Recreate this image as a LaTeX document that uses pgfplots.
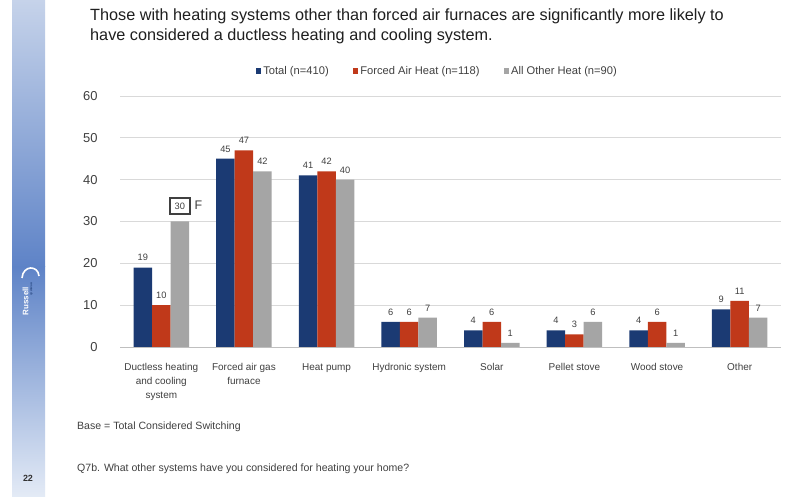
\documentclass[border=0pt]{standalone}
\usepackage{fontspec}
\setmainfont{Liberation Sans}
\usepackage{pgfplots}
\pgfplotsset{compat=1.18}

\definecolor{navy}{HTML}{1B3A73}
\definecolor{rust}{HTML}{C0391A}
\definecolor{silver}{HTML}{A5A5A5}
\definecolor{gridgray}{HTML}{D9D9D9}
\definecolor{axisgray}{HTML}{BFBFBF}
\definecolor{txt}{HTML}{404040}
\definecolor{stripA}{HTML}{C6D3EA}
\definecolor{stripB}{HTML}{5E83C7}
\definecolor{stripC}{HTML}{E4EBF6}

\pgfplotsset{
  sqleg/.style={legend image code/.code={\fill[##1] (0bp,-2.8bp) rectangle (5.6bp,2.8bp);}},
}

\setlength{\fboxrule}{1.6bp}
\setlength{\fboxsep}{4bp}

\begin{document}
\begin{tikzpicture}[x=1bp,y=1bp]
% page
\fill[white] (0,0) rectangle (785,497);
% side strip
\shade[top color=stripA, bottom color=stripB] (12,230) rectangle (45,497);
\shade[top color=stripB, bottom color=stripC] (12,0) rectangle (45,230);
% logo
\draw[white, line width=1.6bp] (22,219) .. controls (23,232) and (38,232) .. (39,221);
\node[rotate=90, white, font=\fontsize{8}{8}\selectfont\bfseries, inner sep=0] at (25.5,196) {Russell};
\node[rotate=-90, navy, font=\fontsize{3.5}{3.5}\selectfont, inner sep=0] at (31.5,208) {research};
\node[font=\fontsize{9}{9}\selectfont\bfseries, text=black!80, inner sep=0] at (28,19) {22};

% title
\node[anchor=base west, inner sep=0, font=\fontsize{16.3}{18}\selectfont, text=black!88]
  at (90bp,476bp) {Those with heating systems other than  forced air furnaces are significantly more likely to};
\node[anchor=base west, inner sep=0, font=\fontsize{16.3}{18}\selectfont, text=black!88]
  at (90bp,456.5bp) {have considered a ductless heating and cooling system.};

\begin{axis}[
  at={(120bp,150bp)}, anchor=south west,
  scale only axis, width=661bp, height=251bp,
  ybar=0pt, bar width=18.5bp,
  xmin=-0.5, xmax=7.5, ymin=0, ymax=60,
  axis lines*=left,
  y axis line style={draw=none},
  x axis line style={draw=axisgray, line width=0.9bp},
  ytick={0,10,...,60},
  ymajorgrids, grid style={draw=gridgray, line width=0.9bp},
  major y tick style={draw=none},
  xtick={0,...,7},
  xticklabels={{Ductless heating\\and cooling\\system},{Forced air gas\\furnace},Heat pump,Hydronic system,Solar,Pellet stove,Wood stove,Other},
  major x tick style={draw=none},
  extra x ticks={-0.5,0.5,...,7.5},
  extra x tick labels={},
  extra x tick style={grid=none, tick align=outside, major tick length=5bp,
    major tick style={draw=axisgray, line width=0.9bp}},
  xticklabel style={align=center, font=\fontsize{10}{14}\selectfont, text=txt, anchor=north, yshift=-9bp},
  yticklabel style={font=\fontsize{13}{13}\selectfont, text=txt, xshift=-19bp},
  /pgf/number format/assume math mode=true,
  nodes near coords,
  every node near coord/.append style={font=\fontsize{9.3}{9.3}\selectfont, text=txt, yshift=3bp},
  legend columns=3,
  legend style={draw=none, fill=none, at={(0.48,1.099)}, anchor=center,
    font=\fontsize{11.2}{12}\selectfont, text=txt,
    /tikz/every even column/.append style={column sep=22bp}},
  clip=false,
]
\addplot[fill=navy, draw=none, sqleg] coordinates
  {(0,19) (1,45) (2,41) (3,6) (4,4) (5,4) (6,4) (7,9)};
\addlegendentry{Total (n=410)}
\addplot[fill=rust, draw=none, sqleg] coordinates
  {(0,10) (1,47) (2,42) (3,6) (4,6) (5,3) (6,6) (7,11)};
\addlegendentry{Forced Air Heat (n=118)}
\addplot[fill=silver, draw=none, sqleg,
  point meta=explicit symbolic, nodes near coords={\pgfplotspointmeta}] coordinates
  {(0,30) [{\fbox{30}\rlap{\hspace{4bp}\fontsize{12.5}{12.5}\selectfont F}}]
   (1,42) [42] (2,40) [40] (3,7) [7] (4,1) [1] (5,6) [6] (6,1) [1] (7,7) [7]};
\addlegendentry{All Other Heat (n=90)}
\end{axis}

% notes
\node[anchor=west, inner sep=0, font=\fontsize{10.6}{10.6}\selectfont, text=txt] at (77bp,70bp) {Base = Total Considered Switching};
\node[anchor=west, inner sep=0, font=\fontsize{10.6}{10.6}\selectfont, text=txt] at (77bp,28.5bp) {Q7b. What other systems have you considered for heating your home?};

\pgfresetboundingbox
\useasboundingbox (0,0) rectangle (785,497);
\end{tikzpicture}
\end{document}
